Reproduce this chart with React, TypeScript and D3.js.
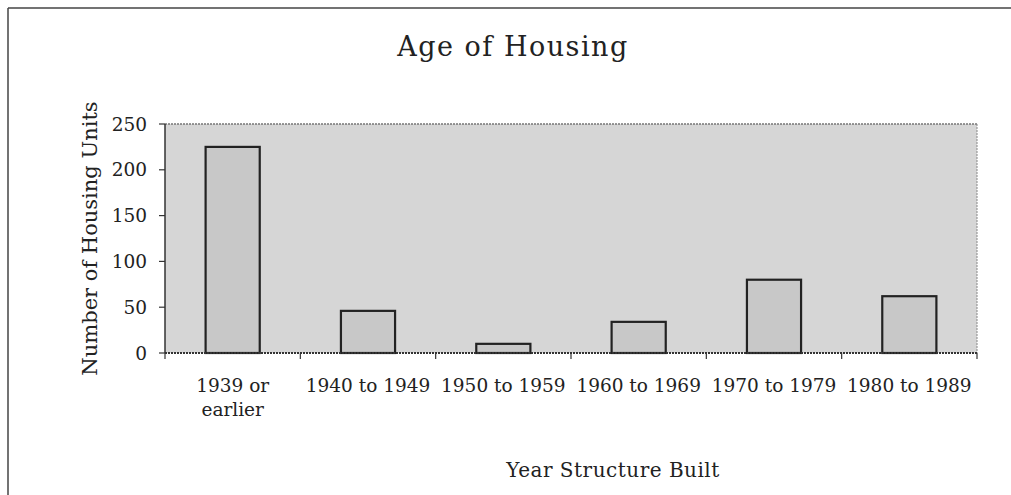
import * as d3 from "d3";

const categories = ["1939 or earlier", "1940 to 1949", "1950 to 1959", "1960 to 1969", "1970 to 1979", "1980 to 1989"];
const labelLines = [["1939 or", "earlier"], ["1940 to 1949"], ["1950 to 1959"], ["1960 to 1969"], ["1970 to 1979"], ["1980 to 1989"]];
const units = [225, 46, 10, 34, 80, 62];
const yTicks = [0, 50, 100, 150, 200, 250];

const W = 1011;
const H = 495;
const plot = { left: 165, right: 977, top: 124, bottom: 353 };
const font = "'DejaVu Serif', 'Liberation Serif', serif";

export default function App() {
  const x = d3
    .scaleBand<string>()
    .domain(categories)
    .range([plot.left, plot.right])
    .paddingInner(0.6)
    .paddingOuter(0.3);
  const y = d3.scaleLinear().domain([0, 250]).range([plot.bottom, plot.top]);
  // category boundaries for ticks
  const bounds = d3.range(categories.length + 1).map((i) => plot.left + i * ((plot.right - plot.left) / categories.length));

  return (
    <svg width={W} height={H} style={{ position: "fixed", left: 0, top: 0, background: "#fff" }} fontFamily={font}>
      {/* outer frame */}
      <line x1={8} y1={8} x2={W} y2={8} stroke="#444" strokeWidth={1.5} />
      <line x1={8} y1={8} x2={8} y2={H} stroke="#444" strokeWidth={1.5} />

      <text x={513} y={56} textAnchor="middle" fontSize={27} fill="#222" letterSpacing={1.5}>
        Age of Housing
      </text>

      {/* plot area */}
      <rect x={plot.left} y={plot.top} width={plot.right - plot.left} height={plot.bottom - plot.top} fill="#d6d6d6" />
      <line x1={plot.left} x2={plot.right} y1={plot.top} y2={plot.top} stroke="#777" strokeWidth={1.5} strokeDasharray="2 1" />
      <line x1={plot.right} x2={plot.right} y1={plot.top} y2={plot.bottom} stroke="#888" strokeWidth={1} strokeDasharray="2 1" />

      {units.map((v, i) => (
        <rect
          key={categories[i]}
          x={x(categories[i])}
          y={y(v)}
          width={x.bandwidth()}
          height={y(0) - y(v)}
          fill="#c8c8c8"
          stroke="#222"
          strokeWidth={2.2}
        />
      ))}

      {/* y axis */}
      <line x1={plot.left} x2={plot.left} y1={plot.top} y2={plot.bottom} stroke="#333" strokeWidth={1.5} />
      {yTicks.map((t) => (
        <g key={t}>
          <line x1={plot.left - 6} x2={plot.left} y1={y(t)} y2={y(t)} stroke="#333" strokeWidth={1.2} />
          <text x={plot.left - 18} y={y(t) + 6.5} textAnchor="end" fontSize={18.5} fill="#222">
            {t}
          </text>
        </g>
      ))}
      <text
        transform={`translate(97,${(plot.top + plot.bottom) / 2}) rotate(-90)`}
        textAnchor="middle"
        fontSize={21}
        fill="#222"
      >
        Number of Housing Units
      </text>

      {/* x axis */}
      <line x1={plot.left} x2={plot.right} y1={plot.bottom} y2={plot.bottom} stroke="#333" strokeWidth={2} strokeDasharray="2 1" />
      {bounds.map((b, i) => (
        <line key={i} x1={b} x2={b} y1={plot.bottom} y2={plot.bottom + 6} stroke="#333" strokeWidth={1.2} />
      ))}
      {categories.map((c, i) => (
        <text key={c} x={(x(c) ?? 0) + x.bandwidth() / 2} y={392} textAnchor="middle" fontSize={18.5} fill="#222">
          {labelLines[i].map((l, j) => (
            <tspan key={j} x={(x(c) ?? 0) + x.bandwidth() / 2} dy={j === 0 ? 0 : 24}>
              {l}
            </tspan>
          ))}
        </text>
      ))}
      <text x={613} y={477} textAnchor="middle" fontSize={20} fill="#222" letterSpacing={0.5}>
        Year Structure Built
      </text>
    </svg>
  );
}
